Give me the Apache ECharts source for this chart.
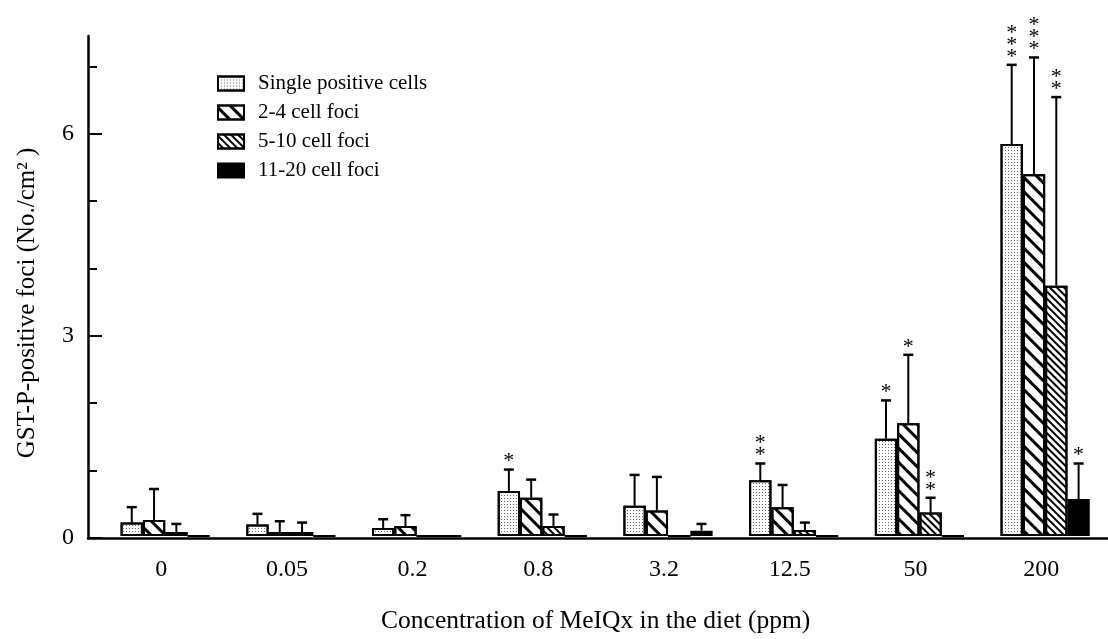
<!DOCTYPE html>
<html>
<head>
<meta charset="utf-8">
<script src="https://cdn.jsdelivr.net/npm/echarts@6/dist/echarts.min.js"></script>
<style>
html,body{margin:0;padding:0;background:#fff;}
#chart{width:1108px;height:639px;}
</style>
</head>
<body>
<div id="chart"></div>
<script>
// ---- data ----
const categories = ['0', '0.05', '0.2', '0.8', '3.2', '12.5', '50', '200'];
const seriesNames = ['Single positive cells', '2-4 cell foci', '5-10 cell foci', '11-20 cell foci'];

const singleMean = [0.20, 0.17, 0.12, 0.67, 0.45, 0.83, 1.45, 5.84];
const singleSD   = [0.23, 0.16, 0.13, 0.32, 0.46, 0.25, 0.57, 1.18];
const singleSig  = ['', '', '', '*', '', '**', '*', '***'];

const foci24Mean = [0.24, 0.06, 0.15, 0.57, 0.38, 0.43, 1.68, 5.39];
const foci24SD   = [0.46, 0.16, 0.16, 0.27, 0.50, 0.33, 1.02, 1.74];
const foci24Sig  = ['', '', '', '', '', '', '*', '***'];

const foci510Mean = [0.06, 0.06, 0, 0.15, 0, 0.09, 0.35, 3.73];
const foci510SD   = [0.12, 0.14, 0, 0.17, 0, 0.11, 0.22, 2.81];
const foci510Sig  = ['', '', '', '', '', '', '**', '**'];

const foci1120Mean = [0, 0, 0, 0, 0.08, 0, 0, 0.55];
const foci1120SD   = [0, 0, 0, 0, 0.10, 0, 0, 0.53];
const foci1120Sig  = ['', '', '', '', '', '', '', '*'];

const yTickValues = [0, 1, 2, 3, 4, 5, 6, 7];
const yMajorValues = [0, 3, 6];
const yMax = 7.45;

// ---- styling ----
const FONT = "'Liberation Serif', 'Times New Roman', serif";
const BW = 22.3;
const means = [singleMean, foci24Mean, foci510Mean, foci1120Mean];
const sds = [singleSD, foci24SD, foci510SD, foci1120SD];
const sigs = [singleSig, foci24Sig, foci510Sig, foci1120Sig];

const decals = [
  { symbol: 'rect', symbolSize: 1, dashArrayX: [1, 2], dashArrayY: [1, 2], color: '#6a6a6a' },
  { symbol: 'rect', symbolSize: 1, dashArrayX: [1, 0], dashArrayY: [3, 7], rotation: Math.PI / 4, color: '#000' },
  { symbol: 'rect', symbolSize: 1, dashArrayX: [1, 0], dashArrayY: [2, 2.5], rotation: Math.PI / 4, color: '#000' },
  null
];
const fills = ['#fff', '#fff', '#fff', '#000'];

const chart = echarts.init(document.getElementById('chart'), null, { renderer: 'canvas' });

const barSeries = seriesNames.map((name, k) => ({
  name: name,
  type: 'bar',
  xAxisIndex: 1,
  yAxisIndex: 2,
  barWidth: BW,
  barGap: '0%',
  data: means[k],
  itemStyle: Object.assign({ color: fills[k], borderColor: '#000', borderWidth: 2 }, decals[k] ? { decal: decals[k] } : {}),
  emphasis: { disabled: true },
  animation: false,
  z: 3
}));

const errSeries = seriesNames.map((name, k) => ({
  name: 'err' + k,
  type: 'custom',
  xAxisIndex: 1,
  yAxisIndex: 2,
  data: categories.map((c, i) => [i, means[k][i], sds[k][i]]),
  animation: false,
  z: 4,
  renderItem: function (params, api) {
    const i = api.value(0);
    const m = api.value(1);
    const s = api.value(2);
    const sig = sigs[k][params.dataIndex];
    if (!(s > 0) && !sig) return null;
    const base = api.coord([i, m]);
    const top = api.coord([i, m + s]);
    const x = base[0] + (k - 1.5) * BW;
    const children = [];
    if (s > 0) {
      children.push({ type: 'line', shape: { x1: x, y1: base[1], x2: x, y2: top[1] }, style: { stroke: '#000', lineWidth: 2 } });
      children.push({ type: 'line', shape: { x1: x - 5, y1: top[1], x2: x + 5, y2: top[1] }, style: { stroke: '#000', lineWidth: 2.5 } });
    }
    if (sig) {
      children.push({
        type: 'text',
        x: x, y: top[1] - 2,
        style: {
          text: sig.split('').join('\n'),
          font: '22px ' + FONT,
          fill: '#000',
          align: 'center',
          verticalAlign: 'bottom',
          lineHeight: 12
        }
      });
    }
    return { type: 'group', children: children };
  }
}));

const option = {
  backgroundColor: '#fff',
  animation: false,
  grid: [
    { left: 88, right: 0, top: 36, height: 502 },
    { left: 102.35, width: 1010.4, top: 36, height: 502 }
  ],
  legend: {
    data: seriesNames,
    orient: 'vertical',
    left: 212,
    top: 68,
    itemWidth: 26,
    itemHeight: 14,
    itemGap: 8,
    icon: 'rect',
    textStyle: { fontFamily: FONT, fontSize: 21, color: '#000', padding: [0, 0, 0, 9] },
    selectedMode: false
  },
  xAxis: [
    {
      type: 'category', gridIndex: 0, data: categories,
      axisLine: { show: true, lineStyle: { color: '#000', width: 2.5 } },
      axisTick: { show: false }, axisLabel: { show: false }, splitLine: { show: false }
    },
    {
      type: 'category', gridIndex: 1, data: categories,
      name: 'Concentration of MeIQx in the diet (ppm)',
      nameLocation: 'middle', nameGap: 72,
      nameTextStyle: { fontFamily: FONT, fontSize: 25.5, color: '#000', padding: [0, 19, 0, 0] },
      axisLine: { show: false }, axisTick: { show: false },
      axisLabel: { fontFamily: FONT, fontSize: 24, color: '#000', margin: 22, padding: [0, 8, 0, 0] },
      splitLine: { show: false }
    }
  ],
  yAxis: [
    {
      type: 'value', gridIndex: 0, min: 0, max: yMax, position: 'left',
      name: 'GST-P-positive foci (No./cm² )',
      nameLocation: 'middle', nameGap: 48, nameRotate: 90,
      nameTextStyle: { fontFamily: FONT, fontSize: 25, color: '#000', padding: [0, 32, 0, 0] },
      axisLine: { show: true, lineStyle: { color: '#000', width: 2.5 } },
      axisTick: { show: true, inside: true, length: 9, customValues: yTickValues, lineStyle: { color: '#000', width: 2 } },
      axisLabel: { customValues: yMajorValues, fontFamily: FONT, fontSize: 24, color: '#000', margin: 14 },
      splitLine: { show: false }
    },
    {
      type: 'value', gridIndex: 0, min: 0, max: yMax, position: 'left',
      axisLine: { show: false },
      axisTick: { show: true, inside: true, length: 14, customValues: yMajorValues, lineStyle: { color: '#000', width: 2 } },
      axisLabel: { show: false }, splitLine: { show: false }
    },
    {
      type: 'value', gridIndex: 1, min: 0, max: yMax, show: false
    }
  ],
  series: barSeries.concat(errSeries)
};
chart.setOption(option);
</script>
</body>
</html>
